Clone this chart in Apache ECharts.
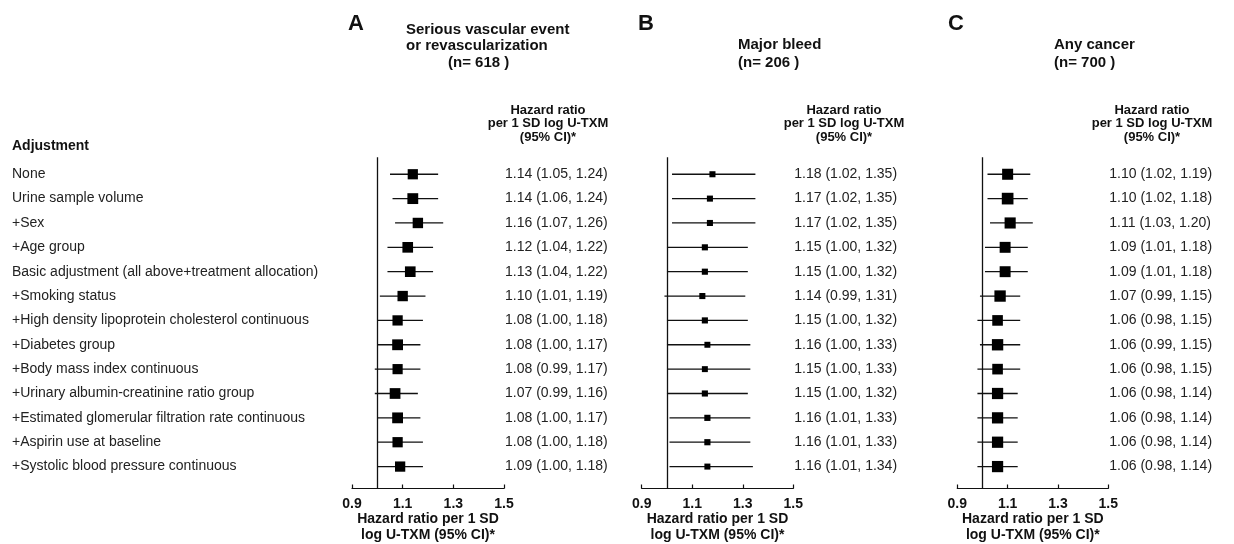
<!DOCTYPE html>
<html>
<head>
<meta charset="utf-8">
<script src="https://cdn.jsdelivr.net/npm/echarts@6/dist/echarts.min.js"></script>
<style>
html,body{margin:0;padding:0;background:#fff;}
#chart{width:1234px;height:544px;}
</style>
</head>
<body>
<div id="chart"></div>
<script>
const categories = [
  'None',
  'Urine sample volume',
  '+Sex',
  '+Age group',
  'Basic adjustment (all above+treatment allocation)',
  '+Smoking status',
  '+High density lipoprotein cholesterol continuous',
  '+Diabetes group',
  '+Body mass index continuous',
  '+Urinary albumin-creatinine ratio group',
  '+Estimated glomerular filtration rate continuous',
  '+Aspirin use at baseline',
  '+Systolic blood pressure continuous'
];

// Panel A: Serious vascular event or revascularization
const hrA = [1.14, 1.14, 1.16, 1.12, 1.13, 1.10, 1.08, 1.08, 1.08, 1.07, 1.08, 1.08, 1.09];
const loA = [1.05, 1.06, 1.07, 1.04, 1.04, 1.01, 1.00, 1.00, 0.99, 0.99, 1.00, 1.00, 1.00];
const hiA = [1.24, 1.24, 1.26, 1.22, 1.22, 1.19, 1.18, 1.17, 1.17, 1.16, 1.17, 1.18, 1.18];

// Panel B: Major bleed
const hrB = [1.18, 1.17, 1.17, 1.15, 1.15, 1.14, 1.15, 1.16, 1.15, 1.15, 1.16, 1.16, 1.16];
const loB = [1.02, 1.02, 1.02, 1.00, 1.00, 0.99, 1.00, 1.00, 1.00, 1.00, 1.01, 1.01, 1.01];
const hiB = [1.35, 1.35, 1.35, 1.32, 1.32, 1.31, 1.32, 1.33, 1.33, 1.32, 1.33, 1.33, 1.34];

// Panel C: Any cancer
const hrC = [1.10, 1.10, 1.11, 1.09, 1.09, 1.07, 1.06, 1.06, 1.06, 1.06, 1.06, 1.06, 1.06];
const loC = [1.02, 1.02, 1.03, 1.01, 1.01, 0.99, 0.98, 0.99, 0.98, 0.98, 0.98, 0.98, 0.98];
const hiC = [1.19, 1.18, 1.20, 1.18, 1.18, 1.15, 1.15, 1.15, 1.15, 1.14, 1.14, 1.14, 1.14];

const panelLetters = ['A', 'B', 'C'];
const panelTitles = [['Serious vascular event', 'or revascularization'], ['Major bleed'], ['Any cancer']];
const panelN = [618, 206, 700];
const xTicks = { min: 0.9, max: 1.5, step: 0.2 };
const headerLines = ['Hazard ratio', 'per 1 SD log U-TXM', '(95% CI)*'];
const axisTitle = 'Hazard ratio per 1 SD\nlog U-TXM (95% CI)*';
const firstColHeader = 'Adjustment';

const FONT = '"Liberation Sans", Arial, Helvetica, sans-serif';

const panels = [
  { hr: hrA, lo: loA, hi: hiA, left: 352, width: 152, headerX: 548, titleX: 406, nX: 448, letterX: 348 },
  { hr: hrB, lo: loB, hi: hiB, left: 641.7, width: 151.6, headerX: 844, titleX: 738, nX: 738, letterX: 638 },
  { hr: hrC, lo: loC, hi: hiC, left: 957.3, width: 151, headerX: 1152, titleX: 1054, nX: 1054, letterX: 948 }
];

const gridTop = 157.2;
const gridHeight = 331.3;

const grids = [], xAxes = [], yAxes = [], series = [];
panels.forEach((p, i) => {
  grids.push({ left: p.left, width: p.width, top: gridTop, height: gridHeight, containLabel: false, outerBoundsMode: 'none' });
  xAxes.push({
    type: 'value', gridIndex: i, min: xTicks.min, max: xTicks.max, interval: xTicks.step,
    axisLine: { show: true, lineStyle: { color: '#111', width: 1.2 } },
    axisTick: { show: true, inside: true, length: 4, lineStyle: { color: '#111', width: 1.2 } },
    axisLabel: { formatter: v => v.toFixed(1), fontFamily: FONT, fontSize: 14, fontWeight: 'bold', color: '#111', margin: 9 },
    splitLine: { show: false },
    name: axisTitle, nameLocation: 'middle', nameGap: 23, nameMoveOverlap: false,
    nameTextStyle: { fontFamily: FONT, fontSize: 14, fontWeight: 'bold', color: '#111', lineHeight: 16, verticalAlign: 'top' }
  });
  yAxes.push({
    type: 'value', gridIndex: i, min: 0.3, max: 13.9, inverse: true, show: false
  });
  const data = p.hr.map((v, k) => [v, p.lo[k], p.hi[k], k + 1]);
  series.push({
    type: 'custom', xAxisIndex: i, yAxisIndex: i, clip: false, silent: true,
    data: data,
    encode: { x: [0, 1, 2], y: 3 },
    renderItem: function (params, api) {
      const hr = api.value(0), lo = api.value(1), hi = api.value(2), row = api.value(3);
      const pLo = api.coord([lo, row]);
      const pHi = api.coord([hi, row]);
      const pC = api.coord([hr, row]);
      const pR = api.coord([xTicks.max, row]);
      const s = 1.7 / (Math.log(hi) - Math.log(lo));
      const children = [
        { type: 'line', shape: { x1: pLo[0], y1: pLo[1], x2: pHi[0], y2: pHi[1] }, style: { stroke: '#111', lineWidth: 1.3 } },
        { type: 'rect', shape: { x: pC[0] - s / 2, y: pC[1] - s / 2, width: s, height: s }, style: { fill: '#000' } },
        { type: 'text', x: pR[0] + 1, y: pC[1], style: {
            text: hr.toFixed(2) + ' (' + lo.toFixed(2) + ', ' + hi.toFixed(2) + ')',
            font: '14px ' + FONT, fill: '#222', align: 'left', verticalAlign: 'middle' } }
      ];
      if (i === 0) {
        children.push({ type: 'text', x: 12, y: pC[1], style: {
          text: categories[params.dataIndex], font: '14px ' + FONT, fill: '#222', align: 'left', verticalAlign: 'middle' } });
      }
      return { type: 'group', children: children };
    },
    markLine: {
      silent: true, symbol: 'none', label: { show: false },
      lineStyle: { color: '#111', width: 1.3, type: 'solid' },
      data: [{ xAxis: 1 }]
    }
  });
});

const graphic = [];
function addText(text, x, y, size, align) {
  graphic.push({ type: 'text', x: x, y: y, silent: true,
    style: { text: text, font: 'bold ' + size + 'px ' + FONT, fill: '#111', align: align || 'left', verticalAlign: 'middle' } });
}
addText(firstColHeader, 12, 146, 14);
panels.forEach((p, i) => {
  addText(panelLetters[i], p.letterX, 24, 22);
  const t = panelTitles[i];
  if (t.length === 2) {
    addText(t[0], p.titleX, 30, 15);
    addText(t[1], p.titleX, 45.5, 15);
  } else {
    addText(t[0], p.titleX, 45, 15);
  }
  addText('(n= ' + panelN[i] + ' )', p.nX, 62.5, 15);
  headerLines.forEach((h, k) => addText(h, p.headerX, 110 + k * 13.5, 13, 'center'));
});

const chart = echarts.init(document.getElementById('chart'), null, { renderer: 'canvas' });
chart.setOption({
  backgroundColor: '#fff',
  animation: false,
  grid: grids,
  xAxis: xAxes,
  yAxis: yAxes,
  series: series,
  graphic: graphic
});
</script>
</body>
</html>
